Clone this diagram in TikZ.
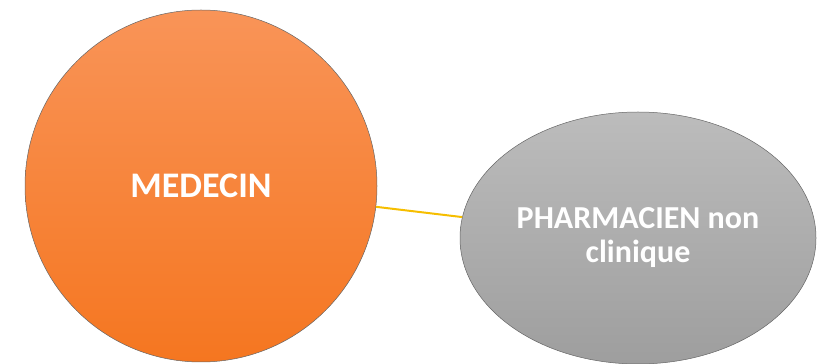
\documentclass[tikz,border=0pt]{standalone}
\usepackage{fontspec}
\setmainfont{Carlito}
\usetikzlibrary{shapes.geometric}
\definecolor{orangetop}{RGB}{249,148,88}
\definecolor{orangebot}{RGB}{245,118,32}
\definecolor{graytop}{RGB}{188,188,188}
\definecolor{graybot}{RGB}{158,158,158}
\definecolor{linkgold}{RGB}{246,190,0}
\begin{document}
\begin{tikzpicture}[x=1pt,y=1pt,
  every node/.style={font=\bfseries,text=white,align=center,inner sep=0pt},
  role/.style={draw=black!60,line width=0.5pt}]
\useasboundingbox (0,0) rectangle (830,364);
\node[role,circle,minimum size=352pt,top color=orangetop,bottom color=orangebot,
  font=\fontsize{36}{40}\selectfont\bfseries] (med) at (201,178) {MEDECIN};
\node[role,ellipse,minimum width=356pt,minimum height=252pt,top color=graytop,bottom color=graybot,
  font=\fontsize{32}{34}\selectfont\bfseries] (pha) at (638,126) {PHARMACIEN non\\clinique};
\draw[linkgold,line width=2pt] (med)--(pha);
\end{tikzpicture}
\end{document}
